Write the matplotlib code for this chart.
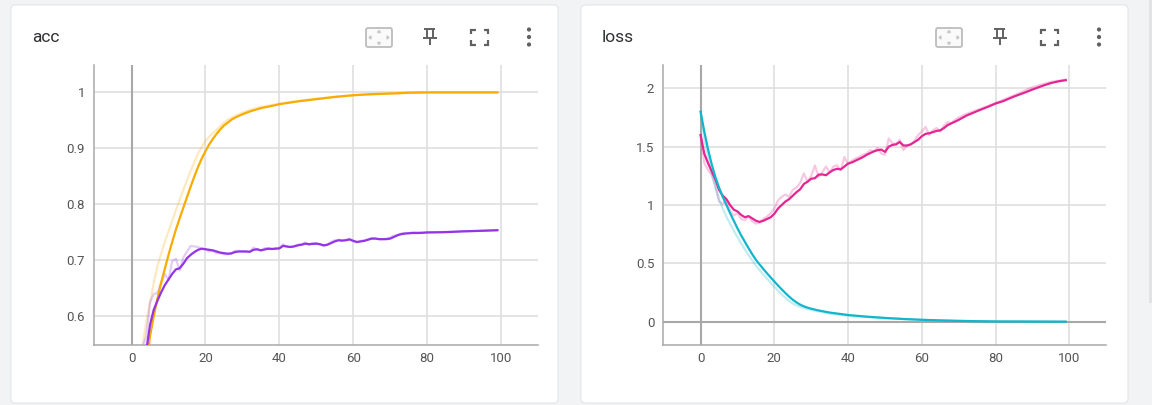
import matplotlib
matplotlib.use('Agg')
import matplotlib.pyplot as plt
from matplotlib.patches import FancyBboxPatch, Circle, Polygon

plt.rcParams['font.family'] = ['Roboto', 'DejaVu Sans']

# ---- acc: train (orange) and validation (purple), smoothed + raw ----
ACC_TR_S_STEPS = list(range(31)) + [32, 35, 38, 40, 45, 50, 55, 60, 65, 70, 75, 80, 90, 99]
ACC_TR_S = [0.25, 0.32, 0.39, 0.45, 0.51, 0.565, 0.60, 0.632, 0.66, 0.685,
            0.71, 0.733, 0.755, 0.775, 0.794, 0.813, 0.832, 0.85, 0.867, 0.882,
            0.895, 0.907, 0.917, 0.926, 0.934, 0.941, 0.946, 0.951, 0.955, 0.958,
            0.961, 0.966, 0.972, 0.976, 0.979, 0.984, 0.988, 0.992, 0.995, 0.997,
            0.998, 0.9995, 1.0, 1.0, 1.0]
ACC_TR_R_STEPS = list(range(31)) + [32, 35, 40, 45, 50, 60, 70, 80, 99]
ACC_TR_R = [0.30, 0.40, 0.48, 0.55, 0.59, 0.625, 0.66, 0.69, 0.712, 0.733,
            0.752, 0.771, 0.79, 0.808, 0.826, 0.843, 0.86, 0.876, 0.891, 0.903,
            0.913, 0.921, 0.927, 0.933, 0.94, 0.946, 0.951, 0.955, 0.958, 0.961,
            0.964, 0.969, 0.974, 0.98, 0.985, 0.989, 0.995, 0.998, 1.0, 1.0]

ACC_VA_S_STEPS = list(range(77)) + [78, 80, 85, 90, 95, 99]
ACC_VA_S = [0.35, 0.42, 0.47, 0.51, 0.54, 0.585, 0.612, 0.628, 0.643, 0.656,
            0.666, 0.676, 0.684, 0.686, 0.694, 0.704, 0.710, 0.715, 0.719, 0.721,
            0.720, 0.719, 0.718, 0.716, 0.714, 0.713, 0.712, 0.7125, 0.715, 0.716,
            0.716, 0.716, 0.7155, 0.719, 0.720, 0.718, 0.7195, 0.721, 0.7205, 0.721,
            0.7215, 0.726, 0.725, 0.724, 0.725, 0.727, 0.728, 0.730, 0.729, 0.7295,
            0.730, 0.729, 0.727, 0.728, 0.731, 0.734, 0.736, 0.7355, 0.736, 0.7375,
            0.735, 0.733, 0.734, 0.735, 0.737, 0.739, 0.739, 0.738, 0.738, 0.738,
            0.739, 0.742, 0.745, 0.747, 0.748, 0.7485, 0.749,
            0.749, 0.750, 0.7505, 0.752, 0.753, 0.754]
ACC_VA_R_STEPS = list(range(77)) + [80, 85, 90, 95, 99]
ACC_VA_R = [0.35, 0.45, 0.50, 0.545, 0.565, 0.625, 0.64, 0.642, 0.66, 0.676,
            0.665, 0.699, 0.703, 0.682, 0.705, 0.716, 0.726, 0.725, 0.724, 0.721,
            0.72, 0.716, 0.717, 0.713, 0.713, 0.711, 0.711, 0.713, 0.717, 0.717,
            0.716, 0.716, 0.715, 0.723, 0.719, 0.718, 0.722, 0.722, 0.72, 0.722,
            0.722, 0.729, 0.724, 0.724, 0.726, 0.728, 0.729, 0.732, 0.728, 0.731,
            0.731, 0.728, 0.726, 0.729, 0.733, 0.736, 0.737, 0.735, 0.737, 0.739,
            0.734, 0.732, 0.735, 0.736, 0.738, 0.74, 0.739, 0.738, 0.738, 0.739,
            0.741, 0.744, 0.746, 0.748, 0.749, 0.749, 0.75,
            0.75, 0.751, 0.752, 0.753, 0.754]

# ---- loss: train (cyan) and validation (magenta), smoothed + raw ----
LOSS_TR_S_STEPS = list(range(31)) + [32, 35, 40, 45, 50, 55, 60, 65, 70, 75, 80, 90, 99]
LOSS_TR_S = [1.8, 1.63, 1.48, 1.35, 1.24, 1.15, 1.07, 1.0, 0.93, 0.865,
             0.80, 0.74, 0.685, 0.63, 0.578, 0.53, 0.49, 0.452, 0.415, 0.379,
             0.344, 0.31, 0.277, 0.245, 0.215, 0.188, 0.165, 0.146, 0.131, 0.12,
             0.111, 0.096, 0.078, 0.057, 0.043, 0.032, 0.023, 0.016, 0.011, 0.007,
             0.004, 0.002, 0.001, 0.0]
LOSS_TR_R_STEPS = list(range(31)) + [35, 40, 50, 60, 70, 80, 99]
LOSS_TR_R = [1.8, 1.56, 1.41, 1.27, 1.15, 1.05, 0.97, 0.9, 0.84, 0.78,
             0.725, 0.67, 0.62, 0.57, 0.525, 0.48, 0.442, 0.405, 0.37, 0.335,
             0.3, 0.266, 0.234, 0.204, 0.177, 0.156, 0.14, 0.127, 0.117, 0.108,
             0.1, 0.07, 0.051, 0.029, 0.015, 0.006, 0.002, 0.0]

LOSS_VA_S_STEPS = list(range(71)) + [72, 75, 78, 80, 82, 85, 88, 90, 93, 95, 97, 99]
LOSS_VA_S = [1.6, 1.44, 1.36, 1.29, 1.22, 1.13, 1.08, 1.05, 1.0, 0.96,
             0.945, 0.915, 0.895, 0.905, 0.885, 0.865, 0.855, 0.865, 0.88, 0.895,
             0.925, 0.97, 1.0, 1.03, 1.05, 1.08, 1.11, 1.135, 1.18, 1.2,
             1.225, 1.23, 1.26, 1.262, 1.255, 1.28, 1.3, 1.31, 1.305, 1.33,
             1.355, 1.365, 1.38, 1.395, 1.41, 1.43, 1.445, 1.46, 1.47, 1.475,
             1.455, 1.5, 1.515, 1.52, 1.54, 1.51, 1.51, 1.52, 1.54, 1.56,
             1.59, 1.61, 1.615, 1.625, 1.635, 1.64, 1.66, 1.685, 1.7, 1.715,
             1.73,
             1.765, 1.805, 1.843, 1.87, 1.89, 1.93, 1.965, 1.99, 2.025, 2.045, 2.06, 2.07]
LOSS_VA_R_STEPS = list(range(71)) + [72, 75, 78, 80, 85, 90, 95, 99]
LOSS_VA_R = [1.6, 1.36, 1.3, 1.26, 1.17, 1.03, 1.01, 1.04, 0.95, 0.91,
             0.93, 0.88, 0.87, 0.9, 0.86, 0.84, 0.85, 0.88, 0.9, 0.93,
             0.97, 1.04, 1.07, 1.09, 1.07, 1.13, 1.15, 1.19, 1.27, 1.2,
             1.25, 1.34, 1.24, 1.28, 1.33, 1.28, 1.33, 1.34, 1.3, 1.41,
             1.35, 1.38, 1.4, 1.41, 1.43, 1.44, 1.47, 1.46, 1.49, 1.44,
             1.43, 1.57, 1.53, 1.52, 1.56, 1.47, 1.51, 1.52, 1.55, 1.6,
             1.63, 1.67, 1.6, 1.64, 1.66, 1.63, 1.68, 1.71, 1.7, 1.73,
             1.75,
             1.78, 1.815, 1.85, 1.875, 1.94, 2.01, 2.055, 2.075]

X_TICKS = [0, 20, 40, 60, 80, 100]
ACC_TICKS = [0.6, 0.7, 0.8, 0.9, 1.0]
ACC_LABELS = ['0.6', '0.7', '0.8', '0.9', '1']
LOSS_TICKS = [0, 0.5, 1, 1.5, 2]
LOSS_LABELS = ['0', '0.5', '1', '1.5', '2']

ORANGE, PURPLE, CYAN, MAGENTA = '#f9ab00', '#9334e6', '#12b5cb', '#e52592'
W, H = 1152, 405

fig = plt.figure(figsize=(W / 100, H / 100), dpi=100)
fig.patch.set_facecolor('#f2f3f4')

# background layer in pixel coordinates: cards + header icons
bg = fig.add_axes([0, 0, 1, 1], zorder=0)
bg.set_xlim(0, W)
bg.set_ylim(H, 0)
bg.axis('off')
bg.add_patch(plt.Rectangle((1149, 0), 3, 303, color='#e2e3e5', lw=0))


def card(ox, title):
    bg.add_patch(FancyBboxPatch((ox + 11, 5), 547, 398, boxstyle='round,pad=0,rounding_size=4',
                                facecolor='white', edgecolor='#e4e5e7', lw=0.8))
    bg.text(ox + 32, 37, title, fontsize=12.5, color='#303134', va='center', ha='left')
    # fit-domain icon
    bg.add_patch(FancyBboxPatch((ox + 366, 28), 26, 19, boxstyle='round,pad=0,rounding_size=2',
                                facecolor='#fafafa', edgecolor='#bdbdbd', lw=1.3))
    tri = '#c8c8c8'
    bg.add_patch(Polygon([(ox + 377.5, 32.5), (ox + 380.5, 32.5), (ox + 379, 30.5)], color=tri))
    bg.add_patch(Polygon([(ox + 377.5, 42.5), (ox + 380.5, 42.5), (ox + 379, 44.5)], color=tri))
    bg.add_patch(Polygon([(ox + 371, 36), (ox + 371, 39), (ox + 369, 37.5)], color=tri))
    bg.add_patch(Polygon([(ox + 387, 36), (ox + 387, 39), (ox + 389, 37.5)], color=tri))
    # pin icon
    ic = '#616161'
    kw = dict(color=ic, lw=1.4, solid_capstyle='butt')
    bg.plot([ox + 424, ox + 435], [28.5, 28.5], **kw)
    bg.plot([ox + 426.5, ox + 426.5], [28.5, 37], **kw)
    bg.plot([ox + 432.5, ox + 432.5], [28.5, 37], **kw)
    bg.plot([ox + 422.5, ox + 436.5], [37.5, 37.5], **kw)
    bg.plot([ox + 429.5, ox + 429.5], [37.5, 45], **kw)
    # fullscreen icon
    x0, x1, y0, y1, a = ox + 471, ox + 488, 29.5, 44.5, 4.5
    for cx, cy, dx, dy in [(x0, y0, 1, 1), (x1, y0, -1, 1), (x0, y1, 1, -1), (x1, y1, -1, -1)]:
        bg.plot([cx, cx, cx + dx * a], [cy + dy * a, cy, cy], color=ic, lw=1.6,
                solid_joinstyle='miter', solid_capstyle='butt')
    # more menu
    for cy in (29.5, 37, 44.5):
        bg.add_patch(Circle((ox + 529, cy), 2.1, color=ic, lw=0))


card(0, 'acc')
card(570, 'loss')


def style(ax, yticks, ylabels, ylim):
    ax.set_facecolor('white')
    ax.set_xlim(-10.3, 110)
    ax.set_ylim(*ylim)
    ax.set_xticks(X_TICKS)
    ax.set_xticklabels([str(t) for t in X_TICKS])
    ax.set_yticks(yticks)
    ax.set_yticklabels(ylabels)
    ax.tick_params(length=0, labelsize=9.5, labelcolor='#555555')
    ax.tick_params(axis='x', pad=5)
    ax.tick_params(axis='y', pad=6)
    ax.grid(color='#dddddd', lw=1.1)
    for s in ('top', 'right'):
        ax.spines[s].set_visible(False)
    for s in ('left', 'bottom'):
        ax.spines[s].set_color('#a8a8a8')
        ax.spines[s].set_linewidth(1.1)
    ax.axvline(0, color='#a8a8a8', lw=1.5, zorder=1.6)


ax1 = fig.add_axes([93.5 / W, 60 / H, 444.5 / W, 280 / H], zorder=1)
style(ax1, ACC_TICKS, ACC_LABELS, (0.549, 1.049))
ax1.plot(ACC_TR_R_STEPS, ACC_TR_R, color=ORANGE, lw=1.6, alpha=0.25, zorder=2)
ax1.plot(ACC_VA_R_STEPS, ACC_VA_R, color=PURPLE, lw=1.6, alpha=0.25, zorder=2)
ax1.plot(ACC_TR_S_STEPS, ACC_TR_S, color=ORANGE, lw=1.6, zorder=3)
ax1.plot(ACC_VA_S_STEPS, ACC_VA_S, color=PURPLE, lw=1.6, zorder=3)

ax2 = fig.add_axes([662.6 / W, 60 / H, 443.7 / W, 280 / H], zorder=1)
style(ax2, LOSS_TICKS, LOSS_LABELS, (-0.2, 2.2))
ax2.axhline(0, color='#a8a8a8', lw=1.5, zorder=1.6)
ax2.plot(LOSS_VA_R_STEPS, LOSS_VA_R, color=MAGENTA, lw=1.6, alpha=0.25, zorder=2)
ax2.plot(LOSS_TR_R_STEPS, LOSS_TR_R, color=CYAN, lw=1.6, alpha=0.25, zorder=2)
ax2.plot(LOSS_VA_S_STEPS, LOSS_VA_S, color=MAGENTA, lw=1.6, zorder=3)
ax2.plot(LOSS_TR_S_STEPS, LOSS_TR_S, color=CYAN, lw=1.6, zorder=3)

fig.savefig('out.png', dpi=100, facecolor=fig.get_facecolor())
